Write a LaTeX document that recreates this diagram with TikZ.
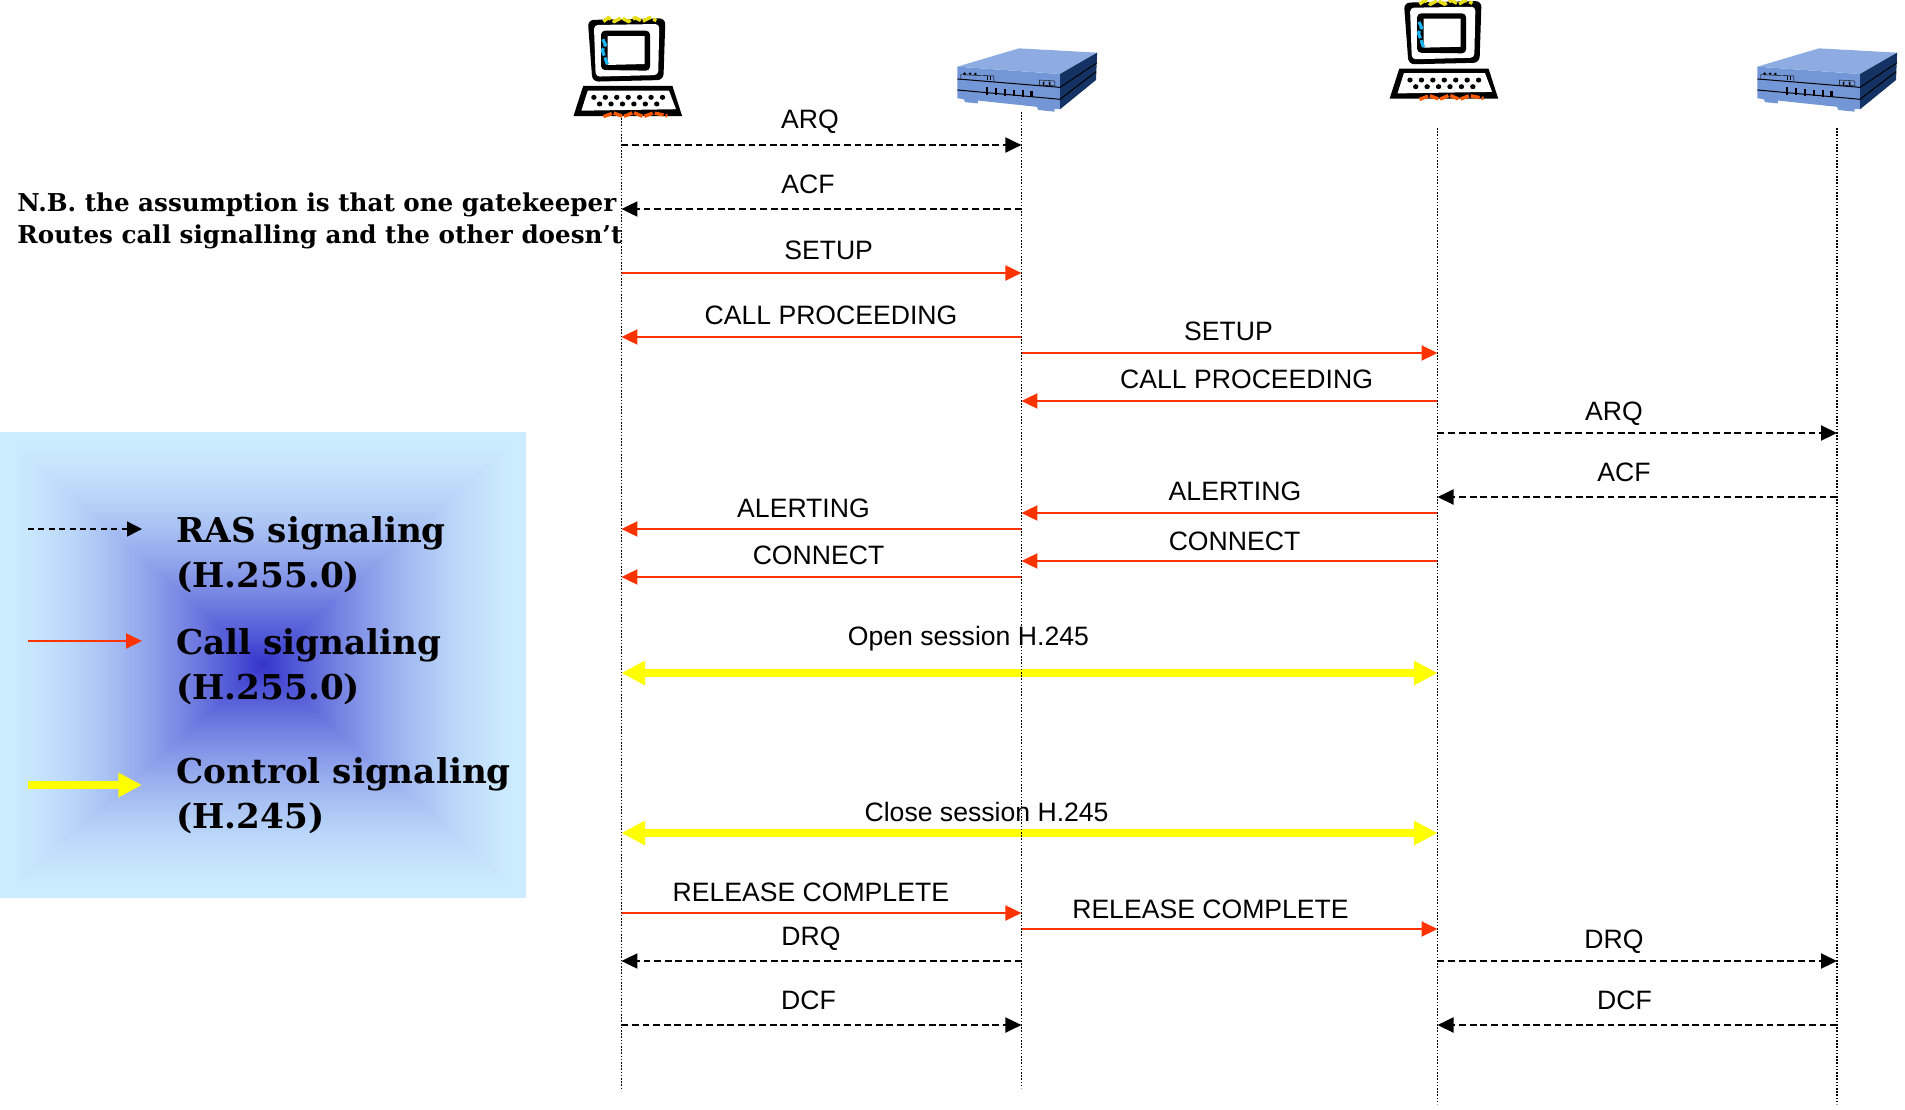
\documentclass[tikz,border=0pt]{standalone}
\usepackage{fontspec}
\setmainfont{Liberation Sans}
\newfontfamily\legendfont{DejaVu Serif}
\usetikzlibrary{arrows.meta}
\definecolor{sigred}{RGB}{255,51,0}
\definecolor{sigyellow}{RGB}{255,255,0}
\definecolor{legenddark}{RGB}{51,51,204}
\definecolor{legendlight}{RGB}{204,236,255}
\definecolor{boxtop}{RGB}{142,172,225}
\definecolor{boxfront}{RGB}{115,150,215}
\definecolor{boxside}{RGB}{20,50,100}
\tikzstyle{msg} = [inner sep=0pt, yshift=.25pt, text height=10.4pt, text depth=0pt, font=\fontsize{13.3}{16}\selectfont]
\tikzstyle{legendtext} = [inner sep=0pt, anchor=west, text height=12.4pt, text depth=0pt, font=\legendfont\bfseries\fontsize{17.1}{20}\selectfont]
\tikzstyle{notetext} = [inner sep=0pt, anchor=west, text height=9pt, text depth=0pt, font=\legendfont\bfseries\fontsize{12.3}{14}\selectfont]
\tikzstyle{lifeline} = [black, line width=.8pt, dash pattern=on .8pt off .8pt]
\tikzstyle{ras} = [black, line width=1pt, dash pattern=on 3.4pt off 1.9pt, -{Triangle[length=8pt,width=7.5pt]}]
\tikzstyle{call} = [sigred, line width=1pt, -{Triangle[length=8pt,width=7.5pt]}]
\tikzstyle{control} = [sigyellow, line width=4pt, {Triangle[length=11.8pt,width=11.5pt]}-{Triangle[length=11.8pt,width=11.5pt]}]
\tikzstyle{controlone} = [sigyellow, line width=4pt, -{Triangle[length=11.8pt,width=11.5pt]}]
\tikzstyle{rasthin} = [black, line width=.75pt, dash pattern=on 3pt off 2.2pt, -{Triangle[length=7.5pt,width=7.5pt]}]

%% terminal: #1 is the lifeline x, #2 the vertical shift
\newcommand{\terminalicon}[2]{
\begin{scope}[shift={(#1,#2)}, yscale=.9333]
\fill [black, rounded corners=3pt] (-33.6,21.4) -- (44,19.6) -- (42,85.7) -- (-29,87.5) -- cycle;
\fill [white, rounded corners=2pt] (-27.5,26.8) -- (37.9,25.7) -- (36.8,80.4) -- (-25.7,82.1) -- cycle;
\fill [black, rounded corners=2pt] (-20.4,32.9) -- (28.6,32.9) -- (28.6,75.7) -- (-20.4,75) -- cycle;
\fill [white] (-13.9,38.6) -- (23.2,38.6) -- (23.2,68.6) -- (-13.9,69.6) -- cycle;
\fill [black] (-38.2,92) -- (51,92) -- (60.7,124.3) -- (-47.9,124.3) -- cycle;
\fill [white] (-33.6,97) -- (47.5,97) -- (54.6,117) -- (-40,118.6) -- cycle;
\foreach \i in {0,...,6} \fill [black] ({-27.5+11.43*\i},104.3) circle (2.7);
\foreach \i in {0,...,5} \fill [black] ({-21.8+11.43*\i},111.4) circle (2.7);
\draw [yellow!90!black, line width=1.7pt, dash pattern=on 4.5pt off 1.2pt] (-18,23) -- (-13,19) -- (-7,23) -- (0,19) -- (7,23) -- (14,19) -- (21,23) -- (28,19) -- (35,22);
\draw [cyan!90!white, line width=1.6pt, dash pattern=on 4pt off 1pt] (-18.5,42) -- (-16,48) -- (-19,54) -- (-17,60) -- (-14,69);
\draw [orange!70!red, line width=1.7pt, dash pattern=on 4.5pt off 1pt] (-18,125) -- (-8,121) -- (2,125) -- (12,120.5) -- (22,125) -- (32,121) -- (46,124);
\end{scope}
}

%% gatekeeper box
\newcommand{\gatekeepericon}[1]{
\begin{scope}[shift={(#1,0)}, yscale=.9333]
\fill [boxfront] (-58.6,105) -- (-43.6,107) -- (-43.6,110.7) -- (-56,109.6) -- cycle;
\fill [boxfront] (15.4,114) -- (33.2,116) -- (33.2,119.6) -- (17,117.9) -- cycle;
\fill [boxfront] (-64,71.4) -- (38.6,79.3) -- (38.6,117.1) -- (-64,105.4) -- cycle;
\fill [boxtop] (-64,71.4) -- (-2.5,51.8) -- (75.7,56.4) -- (38.6,79.3) -- cycle;
\fill [boxside] (38.6,79.3) -- (75.7,56.4) -- (74.6,85.7) -- (38.6,117.1) -- cycle;
\draw [black, line width=.5pt] (-64,84.6) -- (38.6,93.6) -- (75.7,67.1);
\draw [black, line width=.5pt] (-64,96.4) -- (38.6,106.4) -- (74.6,76.8);
\foreach \i in {0,...,5} \fill [black] ({-35.6+8.93*\i},{93.6+.8*\i}) rectangle ++(2.2,{8-.3*\i});
\fill [black] (-56.8,79) circle (1.5) (-51.4,79) circle (1.5) (-46,79.3) circle (1.5);
\draw [black, line width=.2pt] (-60.7,85) -- (-60.7,80) -- (-27.5,81.4) -- (-27.5,86.8);
\draw [black, line width=.2pt] (-34.6,81.5) -- (-34.6,85.5) (-31,81.5) -- (-31,85.5);
\draw [black, line width=.2pt] (18,85.7) -- (18,91) -- (33.5,92) -- (33.5,86.8) -- cycle;
\fill [black] (21.5,87.5) rectangle ++(1.5,4) (27.5,87.5) rectangle ++(1.5,4);
\end{scope}
}

\begin{document}
\begin{tikzpicture}[x=.5pt, y=-.5pt]
\useasboundingbox (0,0) rectangle (1905,1109);

%% legend background
\foreach \i in {0,...,90} {
  \pgfmathsetmacro{\mixval}{100*(\i/90)^1.6}
  \pgfmathsetmacro{\shrink}{1-\i/90}
  \fill [legenddark!\mixval!legendlight] ({263-263*\shrink},{665-233*\shrink}) rectangle ({263+263*\shrink},{665+233*\shrink});
}

\terminalicon{621.4}{0}
\gatekeepericon{1021.4}
\terminalicon{1437.5}{-17.3}
\gatekeepericon{1821.4}

\coordinate (hosta) at (621.4,118);
\coordinate (hostaend) at (621.4,1088);
\coordinate (gka) at (1021.4,112);
\coordinate (gkaend) at (1021.4,1088);
\coordinate (hostb) at (1437.5,128);
\coordinate (hostbend) at (1437.5,1104);
\coordinate (gkb) at (1837,128);
\coordinate (gkbend) at (1837,1104);

%% one row for each message
\coordinate (arqa) at (0,145);
\coordinate (acfa) at (0,209);
\coordinate (setupa) at (0,273);
\coordinate (proca) at (0,337);
\coordinate (setupb) at (0,353);
\coordinate (procb) at (0,401);
\coordinate (arqb) at (0,433);
\coordinate (acfb) at (0,497);
\coordinate (alertb) at (0,513);
\coordinate (alerta) at (0,529);
\coordinate (connb) at (0,561);
\coordinate (conna) at (0,577);
\coordinate (opens) at (0,673);
\coordinate (closes) at (0,833);
\coordinate (rela) at (0,913);
\coordinate (relb) at (0,929);
\coordinate (drq) at (0,961);
\coordinate (dcf) at (0,1025);

\node (arqatext) [msg] at (810,119) {ARQ};
\node (acfatext) [msg] at (808,183.5) {ACF};
\node (setupatext) [msg] at (828.6,250) {SETUP};
\node (procatext) [msg] at (831,314.7) {CALL PROCEEDING};
\node (setupbtext) [msg] at (1228.5,330.5) {SETUP};
\node (procbtext) [msg] at (1246.6,379) {CALL PROCEEDING};
\node (arqbtext) [msg] at (1614,410.7) {ARQ};
\node (acfbtext) [msg] at (1624,471.5) {ACF};
\node (alertbtext) [msg] at (1235,491) {ALERTING};
\node (alertatext) [msg] at (803.5,508) {ALERTING};
\node (connbtext) [msg] at (1234.5,540.7) {CONNECT};
\node (connatext) [msg] at (818.5,555) {CONNECT};
\node (openstext) [msg] at (968.4,636) {Open session H.245};
\node (closestext) [msg] at (986.6,812) {Close session H.245};
\node (relatext) [msg] at (810.8,892) {RELEASE COMPLETE};
\node (relbtext) [msg] at (1210.5,909) {RELEASE COMPLETE};
\node (drqatext) [msg] at (811,935.5) {DRQ};
\node (drqbtext) [msg] at (1614,939) {DRQ};
\node (dcfatext) [msg] at (808.5,1000) {DCF};
\node (dcfbtext) [msg] at (1624.5,1000) {DCF};

\node (noteone) [notetext] at (17,202) {N.B. the assumption is that one gatekeeper};
\node (notetwo) [notetext] at (17,234) {Routes call signalling and the other doesn’t};

\node (rastext) [legendtext] at (176,530) {RAS signaling};
\node (rastwo) [legendtext] at (176,575) {(H.255.0)};
\node (calltext) [legendtext] at (176,642) {Call signaling};
\node (calltwo) [legendtext] at (176,687) {(H.255.0)};
\node (conttext) [legendtext] at (176,771) {Control signaling};
\node (conttwo) [legendtext] at (176,816) {(H.245)};

\coordinate (rasfrom) at (28,529);
\coordinate (rasto) at (142,529);
\coordinate (callfrom) at (28,641);
\coordinate (callto) at (142,641);
\coordinate (contfrom) at (28,785);
\coordinate (contto) at (142,785);

%% arrows after the rest
\draw [rasthin] (rasfrom) -- (rasto);
\draw [call] (callfrom) -- (callto);
\draw [controlone] (contfrom) -- (contto);

\draw [ras] (hosta |- arqa) -- (gka |- arqa);
\draw [ras] (gka |- acfa) -- (hosta |- acfa);
\draw [call] (hosta |- setupa) -- (gka |- setupa);
\draw [call] (gka |- proca) -- (hosta |- proca);
\draw [call] (gka |- setupb) -- (hostb |- setupb);
\draw [call] (hostb |- procb) -- (gka |- procb);
\draw [ras] (hostb |- arqb) -- (gkb |- arqb);
\draw [ras] (gkb |- acfb) -- (hostb |- acfb);
\draw [call] (hostb |- alertb) -- (gka |- alertb);
\draw [call] (gka |- alerta) -- (hosta |- alerta);
\draw [call] (hostb |- connb) -- (gka |- connb);
\draw [call] (gka |- conna) -- (hosta |- conna);
\draw [control] (hosta |- opens) -- (hostb |- opens);
\draw [control] (hosta |- closes) -- (hostb |- closes);
\draw [call] (hosta |- rela) -- (gka |- rela);
\draw [call] (gka |- relb) -- (hostb |- relb);
\draw [ras] (gka |- drq) -- (hosta |- drq);
\draw [ras] (hostb |- drq) -- (gkb |- drq);
\draw [ras] (hosta |- dcf) -- (gka |- dcf);
\draw [ras] (gkb |- dcf) -- (hostb |- dcf);

\draw [lifeline] (hosta) -- (hostaend);
\draw [lifeline] (gka) -- (gkaend);
\draw [lifeline] (hostb) -- (hostbend);
\draw [lifeline] (gkb) -- (gkbend);

\end{tikzpicture}
\end{document}
